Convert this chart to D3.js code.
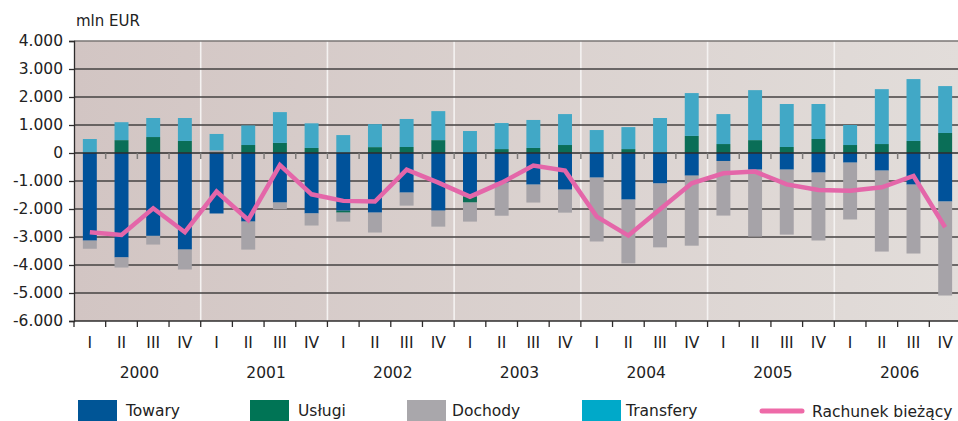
<!DOCTYPE html>
<html>
<head>
<meta charset="utf-8">
<script src="https://cdn.jsdelivr.net/npm/d3@7"></script>
<style>
  body { margin: 0; background: #fff; }
  text { font-family: "DejaVu Sans", sans-serif; fill: #222; }
</style>
</head>
<body>
<div id="chart"></div>
<script>
const WIDTH = 958;
const HEIGHT = 421;
const PLOT = {x: 74, y: 41, w: 887, h: 280};

const years = ['2000', '2001', '2002', '2003', '2004', '2005', '2006'];
const quarterNames = ['I', 'II', 'III', 'IV'];
const yTicks = [4000, 3000, 2000, 1000, 0, -1000, -2000, -3000, -4000, -5000, -6000];

// mln EUR, 2000 I .. 2006 IV
const towary = [-3130, -3730, -2960, -3450, -2160, -2450, -1770, -2160,
                -2060, -2130, -1415, -2060, -1560, -1060, -1130, -1310,
                -880, -1665, -1090, -810, -285, -595, -595, -700,
                -345, -630, -1130, -1735];
const uslugi = [0, 460, 570, 430, 20, 285, 360, 180,
                -70, 210, 215, 460, -210, 140, 180, 285,
                0, 140, 0, 610, 320, 460, 215, 500,
                285, 320, 430, 715];
const dochody = [-290, -360, -310, -710, 70, -1000, -240, -430,
                 -320, -710, -465, -570, -680, -1180, -640, -820,
                 -2280, -2280, -2280, -2500, -1950, -2390, -2320, -2425,
                 -2030, -2890, -2460, -3355];
const transfery = [500, 640, 680, 820, 590, 700, 1100, 880,
                   640, 820, 1000, 1035, 785, 930, 1000, 1105,
                   820, 785, 1250, 1530, 1070, 1785, 1535, 1250,
                   715, 1960, 2210, 1675];
const rachunek = [-2830, -2925, -1975, -2830, -1380, -2390, -430, -1475,
                  -1710, -1735, -595, -1060, -1560, -1060, -450, -630,
                  -2270, -2950, -2010, -1080, -725, -665, -1120, -1320,
                  -1345, -1225, -820, -2650];

const seriesKeys = ['Towary', 'Usługi', 'Dochody', 'Transfery'];
const barColors = {Towary: '#00529a', 'Usługi': '#0a6e57', Dochody: '#a6a3a8', Transfery: '#41a8c6'};
const legendColors = {Towary: '#005596', 'Usługi': '#007455', Dochody: '#a9a7ab', Transfery: '#00a9c9'};
const lineColor = '#e466a9';

let quarters = [];
years.forEach(y => quarterNames.forEach(q => quarters.push(y + '-' + q)));

let rows = quarters.map((key, i) => ({
    key: key,
    Towary: towary[i],
    'Usługi': uslugi[i],
    Dochody: dochody[i],
    Transfery: transfery[i]
}));

let svg = d3.select('#chart').append('svg')
    .attr('width', WIDTH)
    .attr('height', HEIGHT);

let x = d3.scaleBand()
    .domain(quarters)
    .range([PLOT.x, PLOT.x + PLOT.w])
    .paddingInner(0.56)
    .paddingOuter(0.28);
let step = x.step();

let y = d3.scaleLinear()
    .domain([-6000, 4000])
    .range([PLOT.y + PLOT.h, PLOT.y]);

// background gradient
let grad = svg.append('defs').append('linearGradient')
    .attr('id', 'bg')
    .attr('x1', '0%').attr('x2', '100%').attr('y1', '0%').attr('y2', '0%');
grad.append('stop').attr('offset', '0%').attr('stop-color', '#d2c5c3');
grad.append('stop').attr('offset', '100%').attr('stop-color', '#e2ddda');

svg.append('rect')
    .attr('x', PLOT.x)
    .attr('y', PLOT.y)
    .attr('width', PLOT.w)
    .attr('height', PLOT.h)
    .attr('fill', 'url(#bg)');

// year separators
for (let i = 1; i < years.length; i++) {
    let xs = x(years[i] + '-I') - step * 0.28;
    svg.append('line')
        .attr('x1', xs).attr('x2', xs)
        .attr('y1', PLOT.y).attr('y2', PLOT.y + PLOT.h)
        .attr('stroke', '#f4f2f1')
        .attr('stroke-width', 1.6);
}

// horizontal grid
yTicks.forEach(t => {
    if (t === 0 || t === -6000) return;
    svg.append('line')
        .attr('x1', PLOT.x).attr('x2', PLOT.x + PLOT.w)
        .attr('y1', y(t)).attr('y2', y(t))
        .attr('stroke', t === 4000 ? '#7a7675' : '#454242')
        .attr('stroke-width', 1.4);
});

// stacked bars
let stack = d3.stack()
    .keys(seriesKeys)
    .offset(d3.stackOffsetDiverging);
let stacked = stack(rows);

svg.append('g').selectAll('g')
    .data(stacked)
    .join('g')
    .attr('fill', d => barColors[d.key])
    .selectAll('rect')
    .data(d => d)
    .join('rect')
    .attr('x', d => x(d.data.key))
    .attr('width', x.bandwidth())
    .attr('y', d => y(Math.max(d[0], d[1])))
    .attr('height', d => Math.abs(y(d[0]) - y(d[1])));

// zero line with small ticks
svg.append('line')
    .attr('x1', PLOT.x).attr('x2', PLOT.x + PLOT.w)
    .attr('y1', y(0)).attr('y2', y(0))
    .attr('stroke', '#2e2c2c')
    .attr('stroke-width', 1.5);
for (let i = 1; i < quarters.length; i++) {
    let xs = x(quarters[i]) - step * 0.28;
    svg.append('line')
        .attr('x1', xs).attr('x2', xs)
        .attr('y1', y(0)).attr('y2', y(0) + 6)
        .attr('stroke', '#7d7a79')
        .attr('stroke-width', 1.5);
}

// current account line
let line = d3.line()
    .x((d, i) => x(quarters[i]) + x.bandwidth() / 2)
    .y(d => y(d));
svg.append('path')
    .datum(rachunek)
    .attr('d', line)
    .attr('fill', 'none')
    .attr('stroke', lineColor)
    .attr('stroke-width', 4.5)
    .attr('stroke-linejoin', 'miter');

// y axis
let yAxis = d3.axisLeft(y)
    .tickValues(yTicks)
    .tickSize(5)
    .tickPadding(6)
    .tickFormat(d => d3.format(',')(d).replace(/,/g, '.').replace('−', '-'));
let yg = svg.append('g')
    .attr('transform', 'translate(' + PLOT.x + ',0)')
    .call(yAxis);
yg.select('.domain').attr('stroke', '#2e2c2c').attr('stroke-width', 1.3);
yg.selectAll('.tick line').attr('stroke', '#2e2c2c').attr('stroke-width', 1.3);
yg.selectAll('.tick text')
    .attr('font-size', 15.5)
    .attr('font-family', '"DejaVu Sans", sans-serif')
    .attr('fill', '#222');

// bottom axis
svg.append('line')
    .attr('x1', PLOT.x).attr('x2', PLOT.x + PLOT.w)
    .attr('y1', PLOT.y + PLOT.h).attr('y2', PLOT.y + PLOT.h)
    .attr('stroke', '#2e2c2c')
    .attr('stroke-width', 1.5);
for (let i = 0; i <= quarters.length; i++) {
    let xs = PLOT.x + i * step;
    svg.append('line')
        .attr('x1', xs).attr('x2', xs)
        .attr('y1', PLOT.y + PLOT.h).attr('y2', PLOT.y + PLOT.h + 6)
        .attr('stroke', '#2e2c2c')
        .attr('stroke-width', 1.3);
}

svg.append('g').selectAll('text')
    .data(quarters)
    .join('text')
    .attr('x', d => x(d) + x.bandwidth() / 2)
    .attr('y', 348)
    .attr('text-anchor', 'middle')
    .attr('font-size', 15.5)
    .text(d => d.split('-')[1]);

svg.append('g').selectAll('text')
    .data(years)
    .join('text')
    .attr('x', d => x(d + '-I') - step * 0.28 + step * 2 + 2)
    .attr('y', 378)
    .attr('text-anchor', 'middle')
    .attr('font-size', 15.5)
    .text(d => d);

// unit label
svg.append('text')
    .attr('x', 76)
    .attr('y', 26)
    .attr('font-size', 15)
    .text('mln EUR');

// legend
const legendPos = [
    {key: 'Towary', x: 78, tx: 126},
    {key: 'Usługi', x: 250, tx: 298},
    {key: 'Dochody', x: 407, tx: 452},
    {key: 'Transfery', x: 582, tx: 626}
];
legendPos.forEach(l => {
    svg.append('rect')
        .attr('x', l.x).attr('y', 400)
        .attr('width', 39).attr('height', 21)
        .attr('fill', legendColors[l.key]);
    svg.append('text')
        .attr('x', l.tx).attr('y', 416)
        .attr('font-size', 15.5)
        .text(l.key);
});
svg.append('line')
    .attr('x1', 762).attr('x2', 802)
    .attr('y1', 411).attr('y2', 411)
    .attr('stroke', '#ee6aa8')
    .attr('stroke-width', 5)
    .attr('stroke-linecap', 'round');
svg.append('text')
    .attr('x', 812).attr('y', 417)
    .attr('font-size', 15.5)
    .text('Rachunek bieżący');
</script>
</body>
</html>
